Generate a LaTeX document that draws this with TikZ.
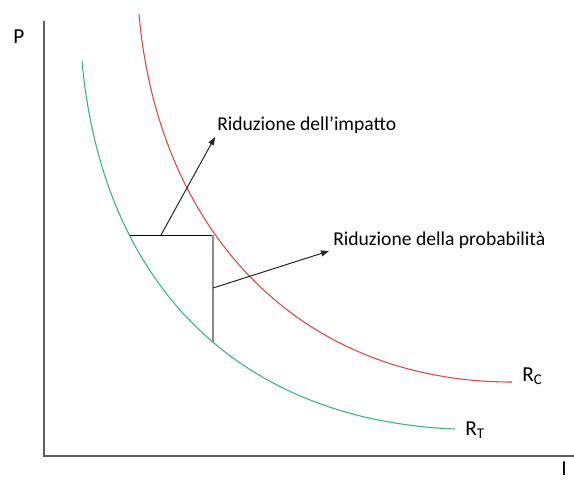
\documentclass[tikz,border=0pt]{standalone}
\usepackage{fontspec}
\setmainfont{Carlito}
\usetikzlibrary{arrows.meta}
\definecolor{curvered}{RGB}{222,70,70}
\definecolor{curvegreen}{RGB}{60,180,115}
\definecolor{axisgray}{RGB}{95,95,95}
\definecolor{stepgray}{RGB}{140,140,140}
\begin{document}
\begin{tikzpicture}[x=0.75pt,y=-0.75pt,
  axisline/.style={draw=axisgray,line width=1.2pt},
  curveline/.style={line width=0.8pt},
  lbl/.style={inner sep=0pt,anchor=base west,font=\fontsize{14.7}{16}\selectfont},
  axlbl/.style={inner sep=0pt,anchor=base west,font=\fontsize{16}{18}\selectfont},
  pointer/.style={draw=black!85,line width=0.75pt,-{Triangle[length=6pt,width=4.5pt]}}]
\useasboundingbox (0,0) rectangle (574,479);
% axes
\coordinate (ytop) at (44,21);
\coordinate (orig) at (44,456);
\coordinate (xend) at (574,456);
\draw[axisline] (ytop) -- (orig) -- (xend);
\node[axlbl] (plbl) at (13,43) {P};
\node[axlbl] (ilbl) at (561,475) {I};
% curves
\coordinate (rs) at (139,14);
\coordinate (re) at (512,382);
\coordinate (gs) at (82,61);
\coordinate (ge) at (455,429);
\draw[curveline,curvered] (rs) .. controls (157.7,229) and (297,382) .. (re);
\draw[curveline,curvegreen] (gs) .. controls (101.8,281) and (235,420) .. (ge);
\node[axlbl] (rc) at (522,381) {R\textsubscript{C}};
\node[axlbl] (rt) at (465,435) {R\textsubscript{T}};
% step
\coordinate (bl) at (129.5,235);
\coordinate (br) at (213,235);
\coordinate (bb) at (213,342);
\coordinate (s1) at (161,235);
\coordinate (s2) at (213,288);
\draw[black,line width=0.7pt] (bl) -- (br);
\draw[stepgray,line width=1.5pt] (br) -- (bb);
% labels and arrows
\node[lbl] (imp) at (217,130) {Riduzione dell’impatto};
\node[lbl] (prob) at (333,245) {Riduzione della probabilità};
\coordinate (t1) at (215,137);
\coordinate (t2) at (329,251);
\draw[pointer] (s1) -- (t1);
\draw[pointer] (s2) -- (t2);
\end{tikzpicture}
\end{document}
